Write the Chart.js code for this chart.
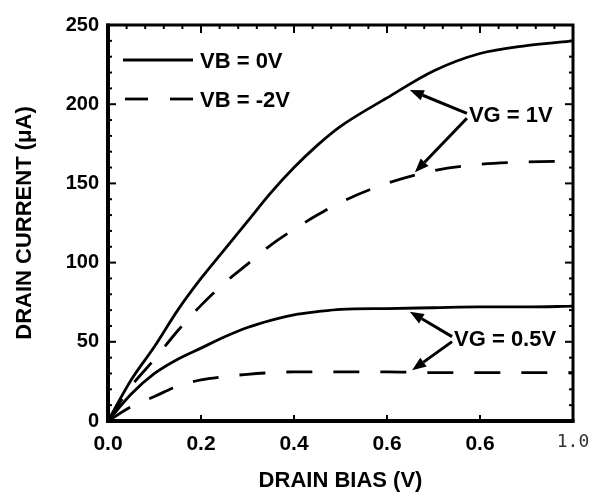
<!DOCTYPE html>
<html>
<head>
<meta charset="utf-8">
<script src="https://cdn.jsdelivr.net/npm/chart.js@4.4.1/dist/chart.umd.min.js"></script>
<style>
  html, body { margin: 0; padding: 0; background: #fff; }
  #wrap { width: 602px; height: 494px; }
</style>
</head>
<body>
<div id="wrap"><canvas id="chart" width="602" height="494"></canvas></div>
<script>
// Drain bias sample points (V)
const drainBias = [0, 0.05, 0.1, 0.15, 0.2, 0.25, 0.3, 0.35, 0.4, 0.45, 0.5, 0.6, 0.7, 0.8, 0.9, 1.0];

// Drain current (uA)
const vg1Vb0  = [0, 26, 47, 70, 90, 108, 126, 144, 160, 174, 186, 204, 221, 232, 237, 240];
const vg1Vb2  = [0, 22, 39, 57, 73, 87, 99, 111, 121, 130, 138, 150, 158, 162, 163.5, 164];
const vg05Vb0 = [0, 17, 30, 39, 46, 53, 59, 63.5, 67, 69, 70.5, 71, 71.5, 72, 72, 72.5];
const vg05Vb2 = [0, 9, 15.5, 22, 26, 28, 29.5, 30.5, 31, 31, 31, 31, 30.5, 30.5, 30.5, 30.5];

// Tick labels as printed on the figure
const xTickLabels = ["0.0", "0.2", "0.4", "0.6", "0.6", "1.0"];
const yTickLabels = ["0", "50", "100", "150", "200", "250"];

const legendLabels = ["VB = 0V", "VB = -2V"];

const FONT = "'Liberation Sans', Arial, Helvetica, sans-serif";
const DASH = [26, 21];

function points(values) {
    return drainBias.map((v, i) => ({ x: v, y: values[i] }));
}

// Gate voltage callouts, anchored in data units
const callouts = [
    { text: "VG = 1V", at: [0.774, 193], tips: [[0.649, 209], [0.660, 157]] },
    { text: "VG = 0.5V", at: [0.742, 52], tips: [[0.649, 69], [0.654, 32]] }
];

function arrow(ctx, x0, y0, x1, y1) {
    const ang = Math.atan2(y1 - y0, x1 - x0);
    const head = 14, half = 5.5;
    const bx = x1 - head * Math.cos(ang), by = y1 - head * Math.sin(ang);
    ctx.beginPath();
    ctx.moveTo(x0, y0);
    ctx.lineTo(bx, by);
    ctx.stroke();
    ctx.beginPath();
    ctx.moveTo(x1, y1);
    ctx.lineTo(bx + half * Math.sin(ang), by - half * Math.cos(ang));
    ctx.lineTo(bx - half * Math.sin(ang), by + half * Math.cos(ang));
    ctx.closePath();
    ctx.fill();
}

function seg(ctx, x0, y0, x1, y1) {
    ctx.beginPath();
    ctx.moveTo(x0, y0);
    ctx.lineTo(x1, y1);
    ctx.stroke();
}

// Frame, inward tick marks, legend and callouts
const paperPlugin = {
    id: "paper",
    afterDraw(chart) {
        const { ctx, chartArea: a, scales: { x, y } } = chart;
        ctx.save();
        ctx.strokeStyle = "#000";
        ctx.fillStyle = "#000";

        ctx.lineWidth = 3;
        ctx.strokeRect(a.left, a.top, a.right - a.left, a.bottom - a.top);
        ctx.lineWidth = 4;
        ctx.beginPath();
        ctx.moveTo(a.left, a.top - 1.5);
        ctx.lineTo(a.left, a.bottom);
        ctx.lineTo(a.right + 1.5, a.bottom);
        ctx.stroke();

        ctx.lineWidth = 2;
        for (let v = 0; v <= 250; v += 10) {
            const py = y.getPixelForValue(v);
            const len = v % 50 === 0 ? 8 : 4;
            seg(ctx, a.left, py, a.left + len, py);
            seg(ctx, a.right - len, py, a.right, py);
        }
        for (let i = 0; i <= 25; i++) {
            const px = x.getPixelForValue(i * 0.04);
            const major = i % 5 === 0;
            seg(ctx, px, a.top, px, a.top + (major ? 8 : 4));
            if (major) seg(ctx, px, a.bottom - 6, px, a.bottom);
        }

        // legend
        ctx.lineWidth = 2.8;
        seg(ctx, a.left + 15, a.top + 35, a.left + 85, a.top + 35);
        seg(ctx, a.left + 17, a.top + 74, a.left + 40, a.top + 74);
        seg(ctx, a.left + 62, a.top + 74, a.left + 85, a.top + 74);
        ctx.font = "bold 22px " + FONT;
        ctx.textBaseline = "middle";
        ctx.textAlign = "left";
        ctx.fillText(legendLabels[0], a.left + 92, a.top + 37);
        ctx.fillText(legendLabels[1], a.left + 92, a.top + 76);

        // callouts
        ctx.lineWidth = 3;
        callouts.forEach(c => {
            const tx = x.getPixelForValue(c.at[0]);
            const ty = y.getPixelForValue(c.at[1]);
            ctx.fillText(c.text, tx + 1, ty + 1);
            arrow(ctx, tx - 1, ty - 2, x.getPixelForValue(c.tips[0][0]), y.getPixelForValue(c.tips[0][1]));
            arrow(ctx, tx - 1, ty + 3, x.getPixelForValue(c.tips[1][0]), y.getPixelForValue(c.tips[1][1]));
        });
        ctx.restore();
    }
};

const lineStyle = { borderColor: "#000", borderWidth: 2.8, pointRadius: 0, fill: false, cubicInterpolationMode: "monotone" };

new Chart(document.getElementById("chart"), {
    type: "line",
    data: {
        datasets: [
            { label: "VG = 1V, " + legendLabels[0], data: points(vg1Vb0), ...lineStyle },
            { label: "VG = 1V, " + legendLabels[1], data: points(vg1Vb2), ...lineStyle, borderDash: DASH },
            { label: "VG = 0.5V, " + legendLabels[0], data: points(vg05Vb0), ...lineStyle },
            { label: "VG = 0.5V, " + legendLabels[1], data: points(vg05Vb2), ...lineStyle, borderDash: DASH }
        ]
    },
    options: {
        responsive: false,
        animation: false,
        layout: { padding: { top: 25, right: 29, left: 0, bottom: 0 } },
        plugins: {
            legend: { display: false },
            tooltip: { enabled: false }
        },
        scales: {
            x: {
                type: "linear",
                min: 0,
                max: 1,
                afterFit(s) { s.height = 73; },
                grid: { display: false, drawTicks: false },
                border: { display: false },
                ticks: {
                    stepSize: 0.2,
                    padding: 11,
                    maxRotation: 0,
                    autoSkip: false,
                    callback: (v, i) => xTickLabels[i],
                    color: c => c.index === 5 ? "#333" : "#000",
                    font: c => c.index === 5
                        ? { family: "'DejaVu Sans Mono', monospace", size: 18, weight: "normal" }
                        : { family: FONT, size: 21, weight: "bold" }
                },
                title: {
                    display: true,
                    text: "DRAIN BIAS (V)",
                    color: "#000",
                    font: { family: FONT, size: 22, weight: "bold" },
                    padding: { top: 0, bottom: 0 }
                }
            },
            y: {
                min: 0,
                max: 250,
                afterFit(s) { s.width = 108; },
                grid: { display: false, drawTicks: false },
                border: { display: false },
                ticks: {
                    stepSize: 50,
                    padding: 9,
                    autoSkip: false,
                    callback: (v, i) => yTickLabels[i],
                    color: "#000",
                    font: { family: FONT, size: 20, weight: "bold" }
                },
                title: {
                    display: true,
                    text: "DRAIN CURRENT (\u03bcA)",
                    color: "#000",
                    font: { family: FONT, size: 22, weight: "bold" },
                    padding: { top: 12, bottom: 0 }
                }
            }
        }
    },
    plugins: [paperPlugin]
});
</script>
</body>
</html>
